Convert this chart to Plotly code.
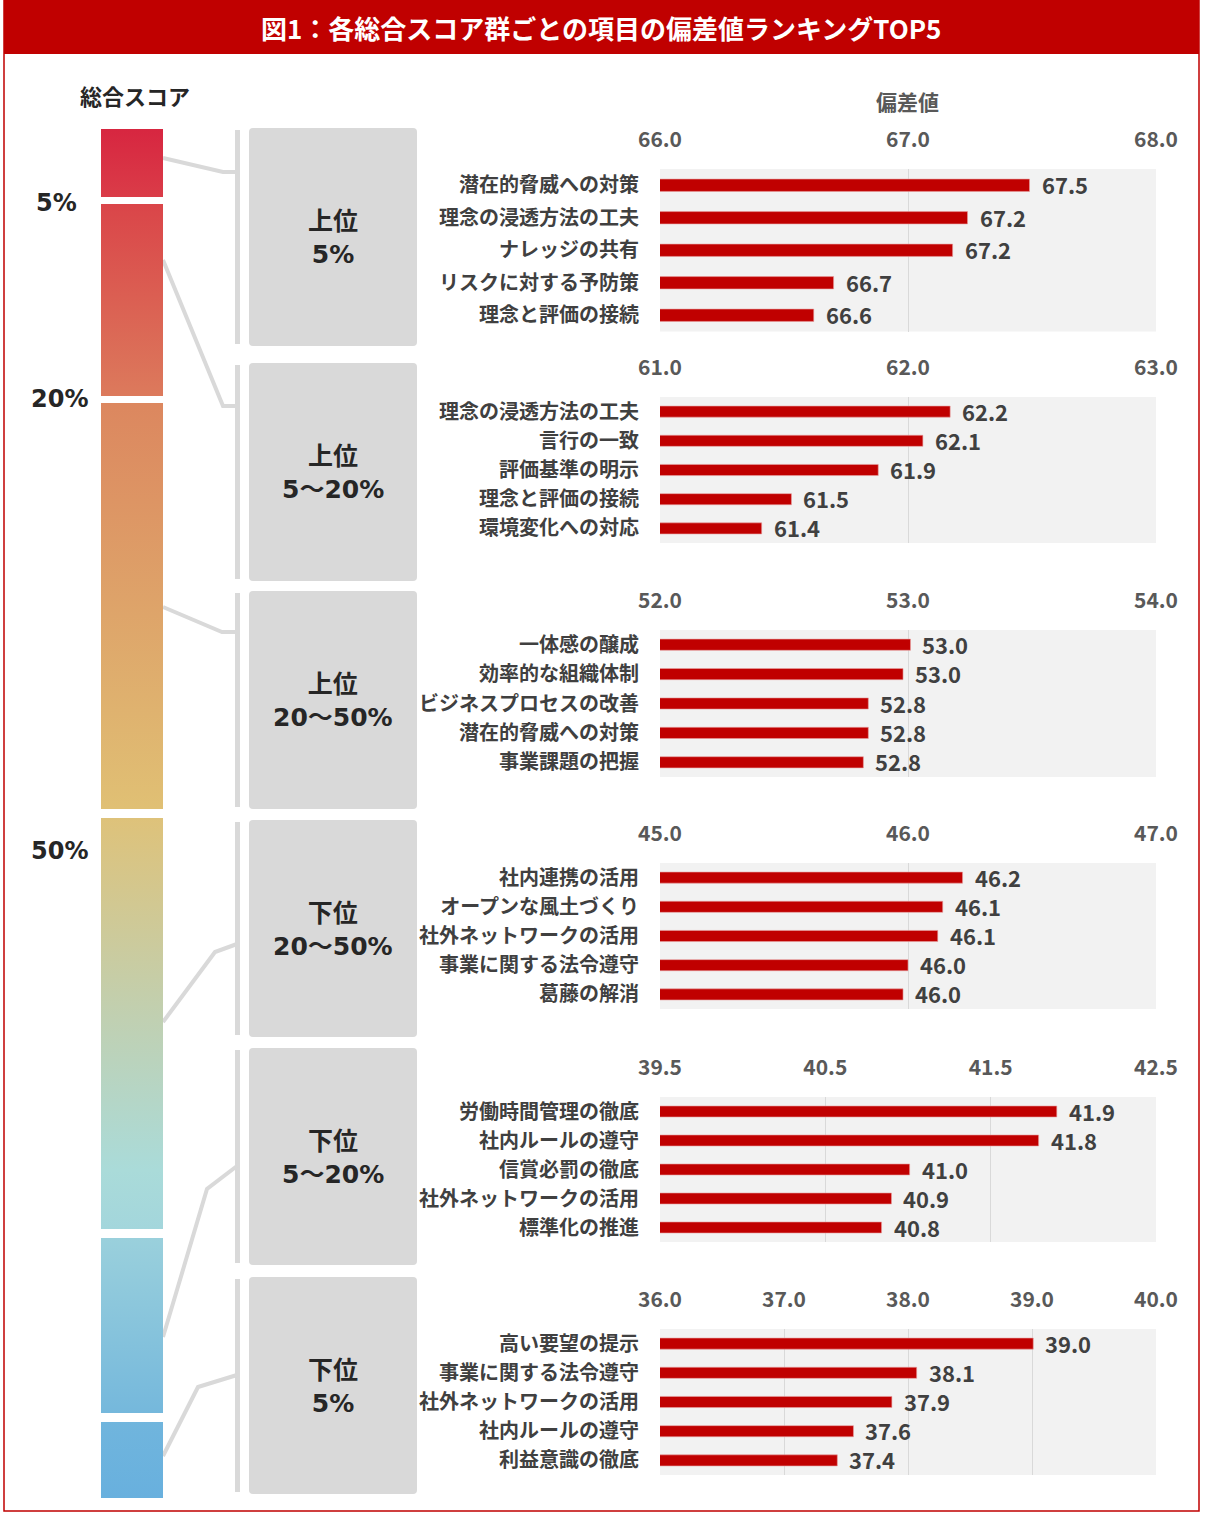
import plotly.graph_objects as go

W, H = 1209, 1514

# ---------------- data ----------------
title_text = "図1：各総合スコア群ごとの項目の偏差値ランキングTOP5"
group_labels = ["上位<br>5%", "上位<br>5～20%", "上位<br>20～50%", "下位<br>20～50%", "下位<br>5～20%", "下位<br>5%"]
pct_labels = ["5%", "20%", "50%"]

cats1 = ["潜在的脅威への対策", "理念の浸透方法の工夫", "ナレッジの共有", "リスクに対する予防策", "理念と評価の接続"]
vals1 = [67.49, 67.24, 67.18, 66.70, 66.62]
cats2 = ["理念の浸透方法の工夫", "言行の一致", "評価基準の明示", "理念と評価の接続", "環境変化への対応"]
vals2 = [62.17, 62.06, 61.88, 61.53, 61.41]
cats3 = ["一体感の醸成", "効率的な組織体制", "ビジネスプロセスの改善", "潜在的脅威への対策", "事業課題の把握"]
vals3 = [53.01, 52.98, 52.84, 52.84, 52.82]
cats4 = ["社内連携の活用", "オープンな風土づくり", "社外ネットワークの活用", "事業に関する法令遵守", "葛藤の解消"]
vals4 = [46.22, 46.14, 46.12, 46.00, 45.98]
cats5 = ["労働時間管理の徹底", "社内ルールの遵守", "信賞必罰の徹底", "社外ネットワークの活用", "標準化の推進"]
vals5 = [41.90, 41.79, 41.01, 40.90, 40.84]
cats6 = ["高い要望の提示", "事業に関する法令遵守", "社外ネットワークの活用", "社内ルールの遵守", "利益意識の徹底"]
vals6 = [39.01, 38.07, 37.87, 37.56, 37.43]

axis_ranges = [[66.0, 68.0], [61.0, 63.0], [52.0, 54.0], [45.0, 47.0], [39.5, 42.5], [36.0, 40.0]]

all_cats = [cats1, cats2, cats3, cats4, cats5, cats6]
all_vals = [vals1, vals2, vals3, vals4, vals5, vals6]

# ---------------- layout geometry (pixels) ----------------
panel_tops = [169, 397, 630, 863, 1097, 1329]
panel_bots = [331.5, 543, 777, 1009, 1242, 1475]
plot_x0, plot_x1 = 660, 1156

box_tops = [128, 363, 591, 820, 1048, 1277]
box_bots = [346, 581, 809, 1037, 1265, 1494]
box_x0, box_x1 = 249, 417
bracket_x = 237.5

seg_tops = [129, 204, 403, 818, 1238, 1422]
seg_bots = [197, 396, 809, 1229, 1413, 1498]
bar_x0, bar_x1 = 101, 163

connectors = [
    [(163, 158), (223, 172), (237, 172)],
    [(163, 260), (223, 406), (237, 406)],
    [(163, 607), (222, 632), (237, 632)],
    [(163, 1022), (215, 952), (237, 944)],
    [(163, 1337), (207, 1189), (237, 1166)],
    [(163, 1456), (198, 1387), (237, 1375)],
]
pct_pos = [(56, 203), (59, 399), (59, 851)]

grad_stops = [
    (129, "#D72640"), (197, "#DA3C48"), (204, "#DA4549"), (396, "#DC7A5C"),
    (403, "#DC875F"), (809, "#E0C074"), (818, "#DEC27A"), (1020, "#C0D0B2"),
    (1170, "#AADBD9"), (1229, "#A3D6DC"), (1238, "#9AD0DC"), (1413, "#75B8DC"),
    (1422, "#70B5DD"), (1498, "#68B0DE"),
]


def pxx(x):
    return x / W


def pyy(y):
    return 1 - y / H


JP = "Noto Sans CJK JP"
MIX = "DejaVu Sans, Noto Sans CJK JP"

fig = go.Figure()
shapes = []
annotations = []

# ---------------- bar panels ----------------
for i in range(6):
    n = i + 1
    xa = "x" if n == 1 else f"x{n}"
    ya = "y" if n == 1 else f"y{n}"
    fig.add_trace(go.Bar(
        x=all_vals[i], y=all_cats[i], orientation="h",
        marker=dict(color="#C00000", line=dict(color="#E8A0A0", width=0.6)),
        width=0.38, xaxis=xa, yaxis=ya, showlegend=False, hoverinfo="skip",
    ))
    r = axis_ranges[i]
    fig.layout[f"xaxis{'' if n == 1 else n}"] = dict(
        domain=[pxx(plot_x0), pxx(plot_x1)], anchor=ya, side="top",
        range=r, tick0=r[0], dtick=1.0, tickformat=".1f",
        showgrid=True, gridcolor="#D9D9D9", gridwidth=1,
        zeroline=False, showline=False, ticks="", automargin=False,
        tickfont=dict(family=JP, size=21, color="#595959", weight="bold"),
        ticklabelstandoff=17, fixedrange=True,
    )
    fig.layout[f"yaxis{'' if n == 1 else n}"] = dict(
        domain=[pyy(panel_bots[i]), pyy(panel_tops[i])], anchor=xa,
        type="category", range=[4.5, -0.5], showgrid=False, zeroline=False,
        showline=False, ticks="", automargin=False,
        tickfont=dict(family=JP, size=20, color="#404040", weight="bold"),
        ticklabelstandoff=20, fixedrange=True,
    )
    shapes.append(dict(type="rect", xref=f"{xa} domain", yref=f"{ya} domain",
                       x0=0, x1=1, y0=0, y1=1, fillcolor="#F2F2F2",
                       line=dict(width=0), layer="below"))
    for c, v in zip(all_cats[i], all_vals[i]):
        annotations.append(dict(x=v, y=c, xref=xa, yref=ya, text=f"{v:.1f}",
                                xanchor="left", yanchor="middle", xshift=10, yshift=1,
                                showarrow=False,
                                font=dict(family=JP, size=22, color="#404040", weight="bold")))

# ---------------- gradient score bar (overlay axis in pixel units) ----------------
g_start, g_stop = H - seg_bots[-1], H - seg_tops[0]
cs = []
for yp, col in sorted(grad_stops, key=lambda t: -t[0]):
    pos = ((H - yp) - g_start) / (g_stop - g_start)
    cs.append([min(max(pos, 0), 1), col])
for t, b in zip(seg_tops, seg_bots):
    fig.add_trace(go.Scatter(
        x=[bar_x0, bar_x1, bar_x1, bar_x0, bar_x0],
        y=[H - t, H - t, H - b, H - b, H - t],
        mode="lines", line=dict(width=0), fill="toself",
        fillgradient=dict(type="vertical", colorscale=cs, start=g_start, stop=g_stop),
        xaxis="x7", yaxis="y7", showlegend=False, hoverinfo="skip",
    ))
fig.layout["xaxis7"] = dict(domain=[0, 1], range=[0, W], visible=False, anchor="y7",
                            fixedrange=True, automargin=False)
fig.layout["yaxis7"] = dict(domain=[0, 1], range=[0, H], visible=False, anchor="x7",
                            fixedrange=True, automargin=False)

# ---------------- decorations ----------------
shapes.append(dict(type="rect", xref="paper", yref="paper", x0=pxx(4), x1=pxx(1199),
                   y0=pyy(1511), y1=pyy(0), line=dict(color="#C00000", width=1.5),
                   fillcolor="rgba(0,0,0,0)", layer="below"))
shapes.append(dict(type="rect", xref="paper", yref="paper", x0=pxx(4), x1=pxx(1199),
                   y0=pyy(54), y1=pyy(0), line=dict(width=0), fillcolor="#C00000", layer="below"))

rr = 4
for t, b in zip(box_tops, box_bots):
    x0, x1 = box_x0, box_x1
    path = (f"M {pxx(x0 + rr)},{pyy(t)} L {pxx(x1 - rr)},{pyy(t)} "
            f"Q {pxx(x1)},{pyy(t)} {pxx(x1)},{pyy(t + rr)} "
            f"L {pxx(x1)},{pyy(b - rr)} Q {pxx(x1)},{pyy(b)} {pxx(x1 - rr)},{pyy(b)} "
            f"L {pxx(x0 + rr)},{pyy(b)} Q {pxx(x0)},{pyy(b)} {pxx(x0)},{pyy(b - rr)} "
            f"L {pxx(x0)},{pyy(t + rr)} Q {pxx(x0)},{pyy(t)} {pxx(x0 + rr)},{pyy(t)} Z")
    shapes.append(dict(type="path", xref="paper", yref="paper", path=path,
                       fillcolor="#D9D9D9", line=dict(width=0), layer="below"))
    shapes.append(dict(type="line", xref="paper", yref="paper",
                       x0=pxx(bracket_x), x1=pxx(bracket_x), y0=pyy(t + 2), y1=pyy(b - 2),
                       line=dict(color="#D9D9D9", width=5), layer="below"))

for pts in connectors:
    path = "M " + " L ".join(f"{pxx(x)},{pyy(y)}" for x, y in pts)
    shapes.append(dict(type="path", xref="paper", yref="paper", path=path,
                       line=dict(color="#D9D9D9", width=4), layer="below"))

annotations.append(dict(x=pxx(601), y=pyy(28), xref="paper", yref="paper", text=title_text,
                        showarrow=False, xanchor="center", yanchor="middle",
                        font=dict(family=JP, size=26, color="white", weight="bold")))
annotations.append(dict(x=pxx(135), y=pyy(95), xref="paper", yref="paper", text="総合スコア",
                        showarrow=False, xanchor="center", yanchor="middle",
                        font=dict(family=JP, size=22, color="#262626", weight="bold")))
annotations.append(dict(x=pxx(907), y=pyy(101), xref="paper", yref="paper", text="偏差値",
                        showarrow=False, xanchor="center", yanchor="middle",
                        font=dict(family=JP, size=21, color="#595959", weight="bold")))
for (x, y), txt in zip(pct_pos, pct_labels):
    annotations.append(dict(x=pxx(x), y=pyy(y), xref="paper", yref="paper", text=txt,
                            showarrow=False, xanchor="center", yanchor="middle",
                            font=dict(family=MIX, size=24, color="#262626", weight="bold")))
for t, b, txt in zip(box_tops, box_bots, group_labels):
    annotations.append(dict(x=pxx((box_x0 + box_x1) / 2), y=pyy((t + b) / 2 + 1),
                            xref="paper", yref="paper", text=txt, showarrow=False,
                            xanchor="center", yanchor="middle", align="center",
                            font=dict(family=MIX, size=25, color="#262626", weight="bold")))

fig.update_layout(
    width=W, height=H, margin=dict(l=0, r=0, t=0, b=0, pad=0, autoexpand=False),
    paper_bgcolor="white", plot_bgcolor="rgba(0,0,0,0)",
    shapes=shapes, annotations=annotations, showlegend=False, bargap=0.6,
)

fig.write_html("out.html", config={"displayModeBar": False, "staticPlot": True},
               post_script="document.body.style.margin='0';")
